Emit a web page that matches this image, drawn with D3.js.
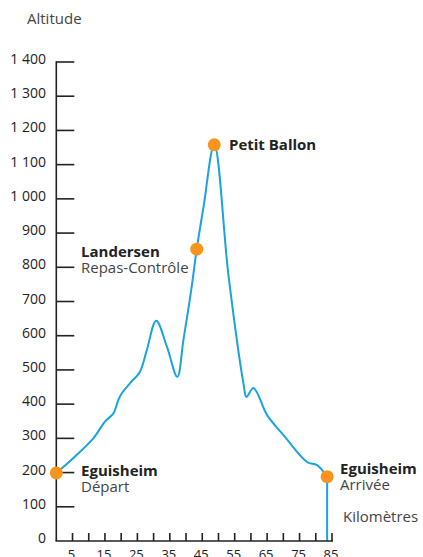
<!DOCTYPE html>
<html>
<head>
<meta charset="utf-8">
<script src="https://cdn.jsdelivr.net/npm/d3@7"></script>
<style>
  body { margin: 0; background: #fff; }
  svg { display: block; font-family: "Open Sans", "Noto Sans", sans-serif; }
</style>
</head>
<body>
<svg id="chart" width="423" height="557"></svg>
<script>
// profile (km, altitude in m)
var km  = [0, 5.2, 11.4, 15, 17.6, 19.1, 20.2, 22.7, 25.8, 27.9, 30.8, 34.1, 37.3, 39.2, 41.6, 43.3, 45.4, 48.7, 53.1, 57.8, 58.6, 60.8, 65, 70, 77.3, 80.4, 83.5];
var alt = [199, 242, 300, 349, 373, 412, 432, 461, 495, 558, 644, 568, 480, 588, 734, 853, 977, 1158, 775, 455, 421, 447, 368, 310, 231, 222, 188];

var stopNames = ["Eguisheim", "Landersen", "Petit Ballon", "Eguisheim"];
var stopSubs  = ["Départ", "Repas-Contrôle", "", "Arrivée"];
var stopKm    = [0, 43.3, 48.7, 83.5];
var stopAlt   = [199, 853, 1158, 188];

var yTicks = d3.range(100, 1401, 100);
var xTicks = d3.range(5, 86, 5);
var xLabels = [5, 15, 25, 35, 45, 55, 65, 75, 85];

var svg = d3.select("#chart");
var x = d3.scaleLinear().domain([0, 85]).range([56.3, 332]);
var y = d3.scaleLinear().domain([0, 1400]).range([541, 62]);

var fmt = function(v){ return d3.format(",")(v).replace(",", " "); };

// profile
var line = d3.line()
  .x(function(d){ return x(d[0]); })
  .y(function(d){ return y(d[1]); })
  .curve(d3.curveCatmullRom.alpha(0.5));
var pts = km.map(function(k, i){ return [k, alt[i]]; });

svg.append("path")
  .attr("d", line(pts))
  .attr("fill", "none")
  .attr("stroke", "#1ba3dd")
  .attr("stroke-width", 2);

// vertical end drop
svg.append("path")
  .attr("d", d3.line().x(function(d){ return x(d[0]); }).y(function(d){ return y(d[1]); })([[83.5, 188], [83.5, 0]]))
  .attr("fill", "none")
  .attr("stroke", "#1ba3dd")
  .attr("stroke-width", 2);

// axes
var ax = svg.append("g").attr("stroke", "#222").attr("stroke-width", 1.6);
ax.append("line").attr("x1", x(0)).attr("x2", x(0)).attr("y1", y(0)).attr("y2", y(1400) - 0.8);
ax.selectAll(".yt").data(yTicks).enter().append("line")
  .attr("x1", x(0)).attr("x2", x(0) + 18)
  .attr("y1", function(d){ return y(d); }).attr("y2", function(d){ return y(d); });

ax.append("line").attr("x1", x(0) - 0.8).attr("x2", x(85) + 1).attr("y1", y(0)).attr("y2", y(0));
ax.selectAll(".xt").data(xTicks).enter().append("line")
  .attr("x1", function(d){ return x(d); }).attr("x2", function(d){ return x(d); })
  .attr("y1", y(0)).attr("y2", y(0) - 8);

svg.selectAll(".yl").data([0].concat(yTicks)).enter().append("text")
  .attr("x", 46).attr("y", function(d){ return y(d) + 2; })
  .attr("text-anchor", "end")
  .attr("font-size", 14)
  .attr("fill", "#222")
  .text(fmt);

svg.selectAll(".xl").data(xLabels).enter().append("text")
  .attr("x", function(d){ return x(d) - 1; }).attr("y", 559)
  .attr("text-anchor", "middle")
  .attr("font-size", 13)
  .attr("fill", "#222")
  .text(function(d){ return d; });

svg.append("text").attr("x", 27).attr("y", 24).attr("font-size", 15).attr("fill", "#444").text("Altitude");
svg.append("text").attr("x", 343).attr("y", 522).attr("font-size", 15).attr("fill", "#444").text("Kilomètres");

// stops
svg.selectAll(".dot").data(stopKm).enter().append("circle")
  .attr("cx", function(d){ return x(d); })
  .attr("cy", function(d, i){ return y(stopAlt[i]); })
  .attr("r", 6.5)
  .attr("fill", "#f7941d");

var labelPos = [[81, 476], [81, 257], [229, 150], [340, 474]];
stopNames.forEach(function(n, i){
  var t = svg.append("text")
    .attr("x", labelPos[i][0]).attr("y", labelPos[i][1])
    .attr("font-size", 15);
  t.append("tspan").attr("font-weight", "bold").attr("fill", "#222").text(n);
  if (stopSubs[i]) {
    t.append("tspan").attr("x", labelPos[i][0]).attr("dy", 16)
      .attr("fill", "#444").text(stopSubs[i]);
  }
});
</script>
</body>
</html>
